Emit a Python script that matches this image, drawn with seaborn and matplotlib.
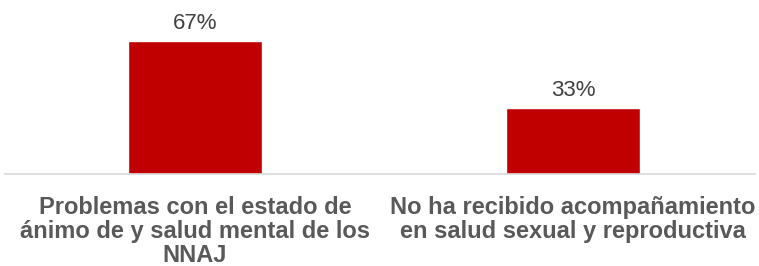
import pandas as pd
import matplotlib.pyplot as plt
import seaborn as sns
plt.switch_backend("Agg")

categories = [
    "Problemas con el estado de\nánimo de y salud mental de los\nNNAJ",
    "No ha recibido acompañamiento\nen salud sexual y reproductiva",
]
values = [67, 33]

df = pd.DataFrame({"categoria": categories, "valor": values})

sns.set_style("white")
plt.rcParams["font.family"] = ["Liberation Sans", "DejaVu Sans"]

fig = plt.figure(figsize=(7.59, 2.66), dpi=100)
ax = fig.add_axes([0.0066, 0.346, 0.988, 0.654])

sns.barplot(data=df, x="categoria", y="valor", color="#C00000", width=0.3545,
            saturation=1, ax=ax)

for i, v in enumerate(values):
    ax.text(i, v + 3.6, f"{v}%", ha="center", va="bottom", fontsize=16,
            color="#404040")

ax.set_ylim(0, 87.5)
ax.set_xlim(-0.5026, 1.4815)
ax.set_xlabel("")
ax.set_ylabel("")
ax.set_yticks([])
ax.tick_params(axis="x", length=0, pad=16)
for lab in ax.get_xticklabels():
    lab.set_fontsize(17)
    lab.set_fontweight("bold")
    lab.set_color("#595959")
    lab.set_linespacing(1.06)
for s in ["top", "right", "left"]:
    ax.spines[s].set_visible(False)
ax.spines["bottom"].set_color("#D9D9D9")
ax.spines["bottom"].set_linewidth(1.2)

fig.savefig("out.png", dpi=100)
